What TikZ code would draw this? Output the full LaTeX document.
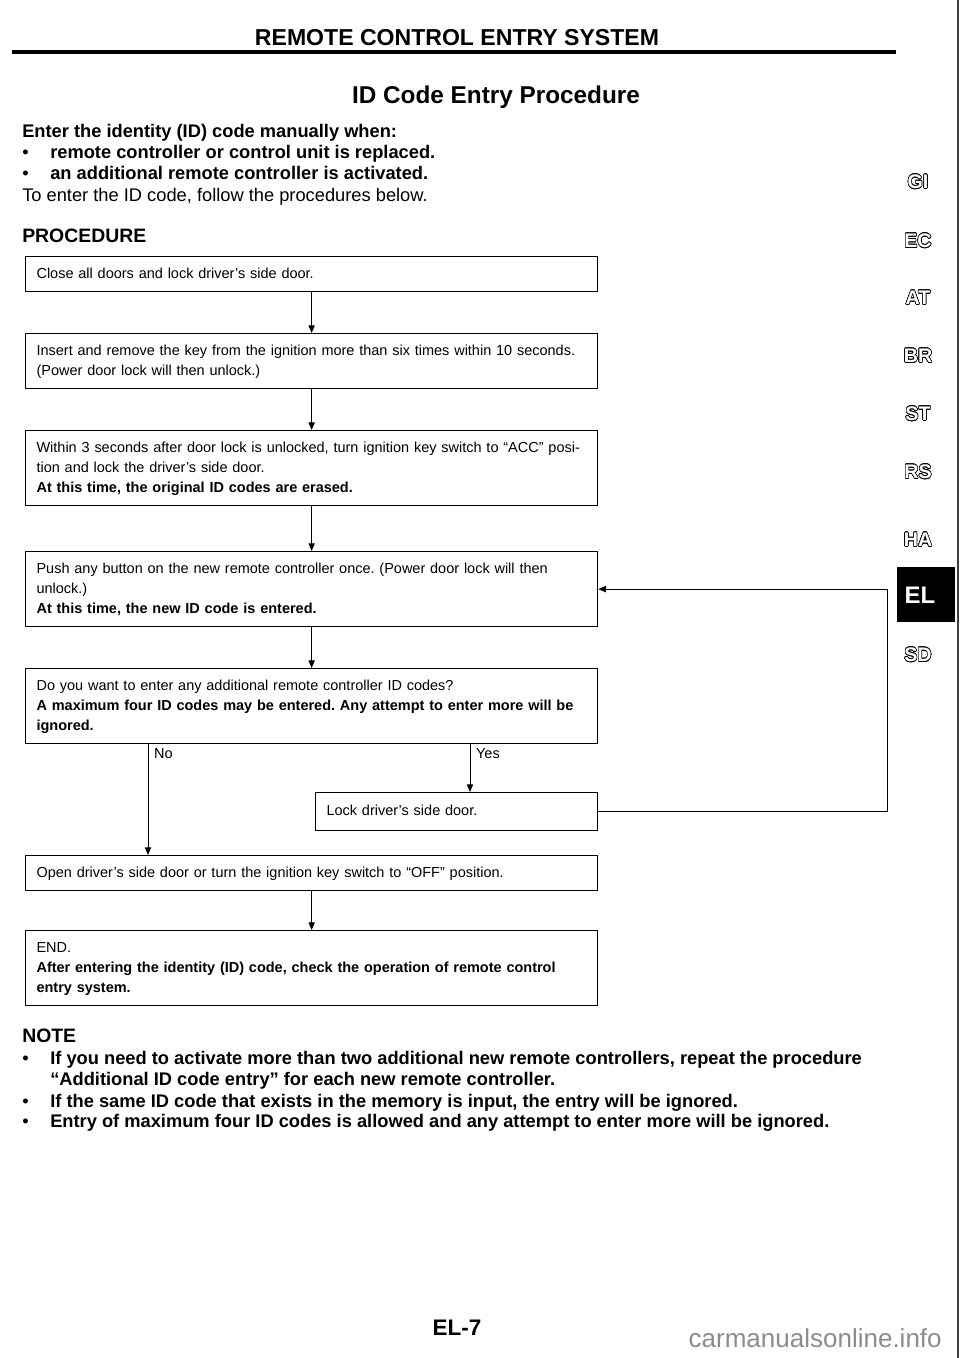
\documentclass[tikz,border=0pt]{standalone}
\usepackage{fontspec}
\setmainfont{Liberation Sans}
\usepackage{contour}
\contourlength{0.4pt}
\usetikzlibrary{arrows.meta}
\frenchspacing

\begin{document}
\begin{tikzpicture}[x=0.025cm,y=-0.025cm,
  stepbox/.style={draw,line width=.8pt,anchor=north west,text width=13.75cm,
    inner xsep=0.275cm,inner ysep=5.4pt,align=left,
    font=\fontsize{10.3}{14.2}\selectfont,
    execute at begin node=\strut,execute at end node=\strut},
  flow/.style={line width=.7pt,-{Triangle[length=5.5pt,width=4.5pt]}},
  bodytext/.style={anchor=base west,inner sep=0pt,font=\fontsize{13}{15}\selectfont},
  branch/.style={inner xsep=4pt,inner ysep=3pt,font=\fontsize{10.3}{12}\selectfont},
  tabtext/.style={inner sep=0pt,font=\bfseries\fontsize{14}{14}\selectfont}]
  \useasboundingbox (0,0) rectangle (960,1358);
  % page head
  \node[anchor=base,inner sep=0pt,font=\bfseries\fontsize{16.4}{18}\selectfont]
    (pagehead) at (457,46) {REMOTE CONTROL ENTRY SYSTEM};
  \draw[line width=2.8pt] (12,52) -- (896,52);
  \draw[line width=.9pt,black!75] (958,0) -- (958,1358);
  \node[anchor=base,inner sep=0pt,font=\bfseries\fontsize{17.3}{19}\selectfont]
    (title) at (496,104) {ID Code Entry Procedure};
  % intro
  \node[bodytext,font=\bfseries\fontsize{13}{15}\selectfont] (intro) at (22,138)
    {Enter the identity (ID) code manually when:};
  \node[bodytext] (dotA) at (22,159) {\textbullet};
  \node[bodytext,font=\bfseries\fontsize{13}{15}\selectfont] (caseA) at (50,159)
    {remote controller or control unit is replaced.};
  \node[bodytext] (dotB) at (22,180) {\textbullet};
  \node[bodytext,font=\bfseries\fontsize{13}{15}\selectfont] (caseB) at (50,180)
    {an additional remote controller is activated.};
  \node[bodytext] (howto) at (22,202) {To enter the ID code, follow the procedures below.};
  \node[bodytext,font=\bfseries\fontsize{13.8}{15}\selectfont] (procedure) at (22,243)
    {PROCEDURE};
  % flow chart
  \node[stepbox] (close) at (25,256) {Close all doors and lock driver's side door.};
  \node[stepbox] (insert) at (25,333) {Insert and remove the key from the ignition more
    than six times within 10 seconds.\\ (Power door lock will then unlock.)};
  \node[stepbox] (acc) at (25,430) {Within 3 seconds after door lock is unlocked, turn
    ignition key switch to ``ACC'' posi-\\ tion and lock the driver's side door.\\
    \textbf{At this time, the original ID codes are erased.}};
  \node[stepbox] (push) at (25,551) {Push any button on the new remote controller once.
    (Power door lock will then\\ unlock.)\\
    \textbf{At this time, the new ID code is entered.}};
  \node[stepbox] (more) at (25,668) {Do you want to enter any additional remote
    controller ID codes?\\ \textbf{A maximum four ID codes may be entered. Any attempt
    to enter more will be\\ ignored.}};
  \node[stepbox,text width=6.5cm,inner ysep=6.5pt] (lock) at (315,792)
    {Lock driver's side door.};
  \node[stepbox] (open) at (25,855) {Open driver's side door or turn the ignition key
    switch to ``OFF'' position.};
  \node[stepbox] (finish) at (25,930) {END.\\ \textbf{After entering the identity (ID)
    code, check the operation of remote control\\ entry system.}};
  \coordinate (nox) at (148,0);
  \coordinate (yesx) at (470,0);
  \coordinate (loopx) at (887,0);
  \draw[flow] (close) -- (insert);
  \draw[flow] (insert) -- (acc);
  \draw[flow] (acc) -- (push);
  \draw[flow] (push) -- (more);
  \draw[flow] (more.south -| nox) -- node[branch,anchor=north west,pos=0] {No}
    (open.north -| nox);
  \draw[flow] (more.south -| yesx) -- node[branch,anchor=north west,pos=0] {Yes}
    (lock.north -| yesx);
  \draw[flow] (lock.east) -- (lock.east -| loopx) |- (push.east);
  \draw[flow] (open) -- (finish);
  % note
  \node[bodytext,font=\bfseries\fontsize{13.8}{15}\selectfont] (note) at (22,1042) {NOTE};
  \node[bodytext] (dotC) at (22,1064) {\textbullet};
  \node[bodytext,font=\bfseries\fontsize{13}{15}\selectfont] (noteA) at (50,1064)
    {If you need to activate more than two additional new remote controllers, repeat the procedure};
  \node[bodytext,font=\bfseries\fontsize{13}{15}\selectfont] (noteAb) at (50,1085)
    {``Additional ID code entry'' for each new remote controller.};
  \node[bodytext] (dotD) at (22,1107) {\textbullet};
  \node[bodytext,font=\bfseries\fontsize{13}{15}\selectfont] (noteB) at (50,1107)
    {If the same ID code that exists in the memory is input, the entry will be ignored.};
  \node[bodytext] (dotE) at (22,1127) {\textbullet};
  \node[bodytext,font=\bfseries\fontsize{13}{15}\selectfont] (noteC) at (50,1127)
    {Entry of maximum four ID codes is allowed and any attempt to enter more will be ignored.};
  % section tabs
  \foreach \tabname/\ty in {GI/182,EC/241,AT/298,BR/356,ST/414,RS/472,HA/540,SD/655}
    \node[tabtext] (tab\tabname) at (918,\ty)
      {\contour{black}{\textcolor{white}{\tabname}}};
  \path[fill=black] (897,567) rectangle (955,622);
  \node[tabtext,text=white,font=\bfseries\fontsize{17}{17}\selectfont] (tabEL)
    at (920,595) {EL};
  % foot
  \node[anchor=base,inner sep=0pt,font=\bfseries\fontsize{16}{17}\selectfont]
    (pagenum) at (457,1335) {EL-7};
  \node[anchor=base east,inner sep=0pt,text=black!45,font=\fontsize{18.5}{19}\selectfont]
    (watermark) at (942,1347) {carmanualsonline.info};
\end{tikzpicture}
\end{document}
